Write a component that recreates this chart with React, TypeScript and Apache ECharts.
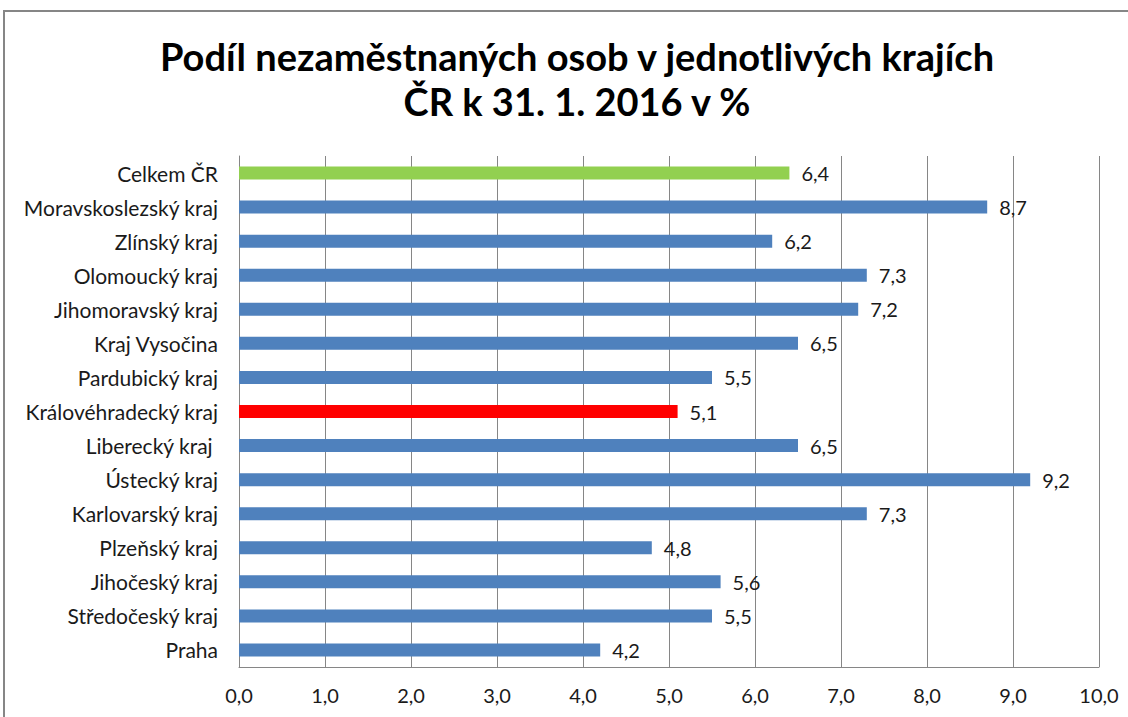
import React, { useEffect, useRef } from "react";
import * as echarts from "echarts";

const titleLines = ["Podíl nezaměstnaných osob v jednotlivých krajích", "ČR k 31. 1. 2016 v %"];
const categories = [
  "Celkem ČR",
  "Moravskoslezský kraj",
  "Zlínský kraj",
  "Olomoucký kraj",
  "Jihomoravský kraj",
  "Kraj Vysočina",
  "Pardubický kraj",
  "Královéhradecký kraj",
  "Liberecký kraj ",
  "Ústecký kraj",
  "Karlovarský kraj",
  "Plzeňský kraj",
  "Jihočeský kraj",
  "Středočeský kraj",
  "Praha",
];
const values = [6.4, 8.7, 6.2, 7.3, 7.2, 6.5, 5.5, 5.1, 6.5, 9.2, 7.3, 4.8, 5.6, 5.5, 4.2];
const totalLabel = "Celkem ČR";
const highlightLabel = "Královéhradecký kraj";
const colors = { normal: "#4F81BD", total: "#92D050", highlight: "#FF0000" };
const axisMin = 0;
const axisMax = 10;
const axisStep = 1;

const fmt = (v: number) => v.toFixed(1).replace(".", ",");

export default function App() {
  const ref = useRef<HTMLDivElement>(null);
  useEffect(() => {
    if (!ref.current) return;
    const chart = echarts.init(ref.current, null, { renderer: "svg" });
    const font = "Lato, 'Open Sans', sans-serif";
    chart.setOption({
      animation: false,
      backgroundColor: "#fff",
      title: {
        text: titleLines.join("\n"),
        left: 572,
        textAlign: "center",
        top: 28,
        textStyle: {
          fontFamily: font,
          fontWeight: "bold",
          fontSize: 38,
          lineHeight: 45,
          color: "#000",
        },
      },
      graphic: [
        {
          type: "rect",
          shape: { x: 4, y: 11, width: 1140, height: 740 },
          style: { fill: "none", stroke: "#868686", lineWidth: 2 },
          silent: true,
        },
      ],
      grid: {
        left: 239,
        right: 29,
        top: 156,
        bottom: 50,
        containLabel: false,
        outerBoundsMode: "none",
      },
      xAxis: {
        type: "value",
        min: axisMin,
        max: axisMax,
        interval: axisStep,
        axisLine: { show: true, lineStyle: { color: "#868686", width: 1 } },
        axisTick: { show: false },
        splitLine: { show: true, lineStyle: { color: "#868686", width: 1 } },
        axisLabel: {
          formatter: (v: number) => fmt(v),
          fontFamily: font,
          fontSize: 20,
          color: "#1a1a1a",
          margin: 18,
        },
      },
      yAxis: {
        type: "category",
        data: categories,
        inverse: true,
        axisLine: { show: true, lineStyle: { color: "#868686", width: 1 } },
        axisTick: { show: false },
        splitLine: { show: false },
        axisLabel: {
          fontFamily: font,
          fontSize: 21,
          color: "#1a1a1a",
          margin: 21,
        },
      },
      series: [
        {
          type: "bar",
          barWidth: 13,
          data: values.map((v, i) => ({
            value: v,
            itemStyle: {
              color:
                categories[i] === totalLabel
                  ? colors.total
                  : categories[i] === highlightLabel
                  ? colors.highlight
                  : colors.normal,
            },
          })),
          label: {
            show: true,
            position: "right",
            distance: 12,
            formatter: (p: any) => fmt(p.value),
            fontFamily: font,
            fontSize: 20,
            color: "#1a1a1a",
          },
        },
      ],
    });
    return () => chart.dispose();
  }, []);
  return (
    <div
      ref={ref}
      style={{ position: "fixed", left: 0, top: 0, width: 1128, height: 717 }}
    />
  );
}
